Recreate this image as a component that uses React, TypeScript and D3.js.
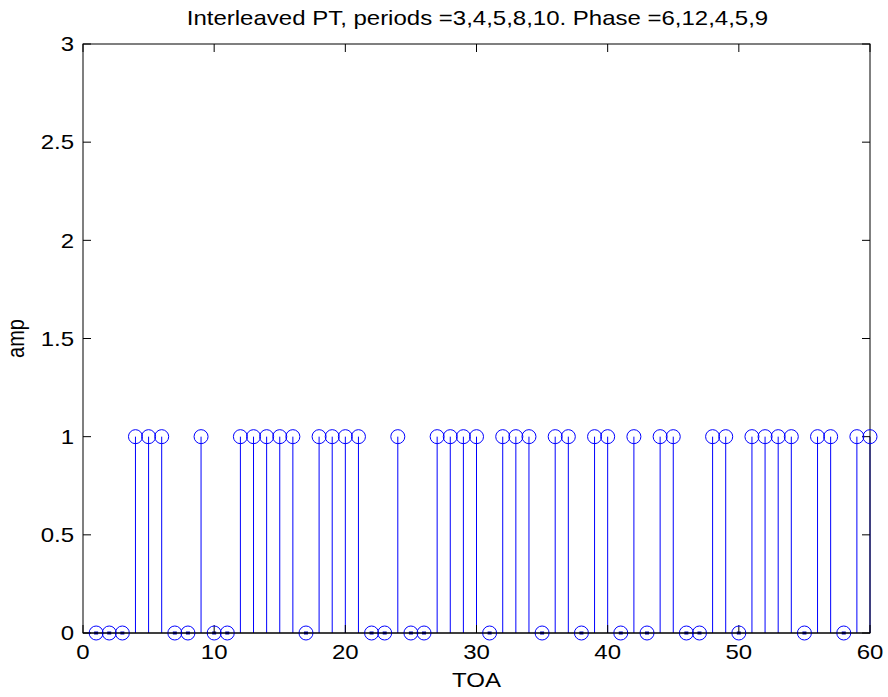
import React from "react";
import * as d3 from "d3";

const toa: number[] = Array.from({ length: 60 }, (_, i) => i + 1);
const amp: number[] = [
  0, 0, 0, 1, 1, 1, 0, 0, 1, 0,
  0, 1, 1, 1, 1, 1, 0, 1, 1, 1,
  1, 0, 0, 1, 0, 0, 1, 1, 1, 1,
  0, 1, 1, 1, 0, 1, 1, 0, 1, 1,
  0, 1, 0, 1, 1, 0, 0, 1, 1, 0,
  1, 1, 1, 1, 0, 1, 1, 0, 1, 1,
];
const xTicks: number[] = [0, 10, 20, 30, 40, 50, 60];
const yTicks: number[] = [0, 0.5, 1, 1.5, 2, 2.5, 3];
const title = "Interleaved PT, periods =3,4,5,8,10. Phase =6,12,4,5,9";
const xLabel = "TOA";
const yLabel = "amp";

const W = 888;
const H = 697;
const M = { left: 83, right: 870, top: 44, bottom: 633 };
const FONT = "'Liberation Sans', Arial, Helvetica, sans-serif";
const SX = 1.2;

function T(props: { x: number; y: number; anchor: string; children: any; rotate?: boolean; dy?: string }) {
  const { x, y, anchor, children, rotate, dy } = props;
  return (
    <g transform={`translate(${x},${y}) scale(${SX},1)${rotate ? " rotate(-90)" : ""}`}>
      <text x={0} y={0} dy={dy} textAnchor={anchor} fontFamily={FONT} fontSize={20} fill="#000">{children}</text>
    </g>
  );
}

export default function App() {
  const x = d3.scaleLinear().domain([0, 60]).range([M.left, M.right]);
  const y = d3.scaleLinear().domain([0, 3]).range([M.bottom, M.top]);
  const tick = 8;
  const blue = "#0000ff";
  return (
    <svg width={W} height={H} style={{ position: "absolute", left: 0, top: 0, background: "#fff" }}>
      <rect x={0} y={0} width={W} height={H} fill="#fff" />
      {toa.map((t, i) => (
        <g key={i}>
          {amp[i] !== 0 ? (
            <line x1={x(t)} x2={x(t)} y1={y(0)} y2={y(amp[i])} stroke={blue} strokeWidth={1} />
          ) : (
            <rect x={x(t) - 2} y={y(0) - 1.5} width={4} height={3} fill="#0000cc" />
          )}
        </g>
      ))}
      <rect x={M.left} y={M.top} width={M.right - M.left} height={M.bottom - M.top} fill="none" stroke="#000" strokeWidth={1} />
      {xTicks.map((v) => (
        <g key={"x" + v}>
          <line x1={x(v)} x2={x(v)} y1={M.bottom} y2={M.bottom - tick} stroke="#000" />
          <line x1={x(v)} x2={x(v)} y1={M.top} y2={M.top + tick} stroke="#000" />
          <T x={x(v)} y={M.bottom + 26} anchor="middle">{v}</T>
        </g>
      ))}
      {yTicks.map((v) => (
        <g key={"y" + v}>
          <line x1={M.left} x2={M.left + tick} y1={y(v)} y2={y(v)} stroke="#000" />
          <line x1={M.right} x2={M.right - tick} y1={y(v)} y2={y(v)} stroke="#000" />
          <T x={M.left - 9} y={y(v)} dy="0.36em" anchor="end">{v}</T>
        </g>
      ))}
      {toa.map((t, i) => (
        <circle key={"c" + i} cx={x(t)} cy={y(amp[i])} r={7} fill="none" stroke={blue} strokeWidth={1} />
      ))}
      <line x1={M.left} x2={M.right} y1={y(0)} y2={y(0)} stroke="#000" strokeWidth={1} />
      <T x={(M.left + M.right) / 2 + 1} y={25} anchor="middle">{title}</T>
      <T x={(M.left + M.right) / 2} y={687} anchor="middle">{xLabel}</T>
      <T x={24} y={(M.top + M.bottom) / 2} anchor="middle" rotate>{yLabel}</T>
    </svg>
  );
}
